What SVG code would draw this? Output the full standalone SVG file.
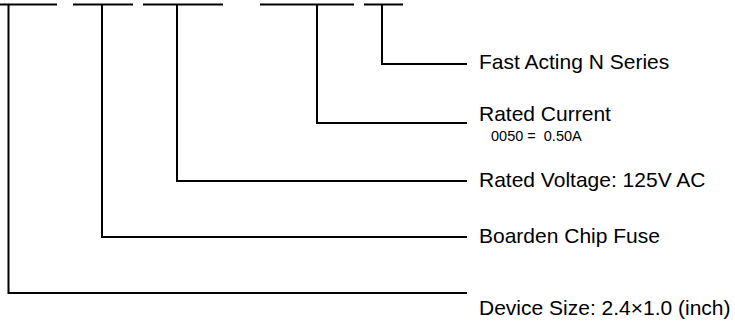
<svg xmlns="http://www.w3.org/2000/svg" width="735" height="325" viewBox="0 0 735 325">
<style>
.ln{fill:none;stroke:#000;stroke-width:2;stroke-linecap:butt;stroke-linejoin:miter}
.lb{font-family:"Liberation Sans",Arial,sans-serif;font-size:21px;fill:#000}
.sm{font-family:"Liberation Sans",Arial,sans-serif;font-size:14.5px;fill:#000}
</style>
<rect width="735" height="325" fill="#fff"/>
<g id="connectors">
<path class="ln" d="M0 4.5H57M73 4.5H133M143 4.5H223M260 4.5H354M364 4.5H403"/>
<path class="ln" d="M382 4.5V64H467"/>
<path class="ln" d="M317 4.5V123H467"/>
<path class="ln" d="M177 4.5V181H467"/>
<path class="ln" d="M102 4.5V237H467"/>
<path class="ln" d="M8.5 4.5V293H467"/>
</g>
<g id="fast-acting"><text class="lb" x="479" y="69">Fast Acting N Series</text></g>
<g id="rated-current"><text class="lb" x="479" y="121">Rated Current</text><text class="sm" x="491" y="141" xml:space="preserve">0050 =  0.50A</text></g>
<g id="rated-voltage"><text class="lb" x="479" y="187">Rated Voltage: 125V AC</text></g>
<g id="chip-fuse"><text class="lb" x="479" y="243">Boarden Chip Fuse</text></g>
<g id="device-size"><text class="lb" x="479" y="315">Device Size: 2.4×1.0 (inch)</text></g>
</svg>
